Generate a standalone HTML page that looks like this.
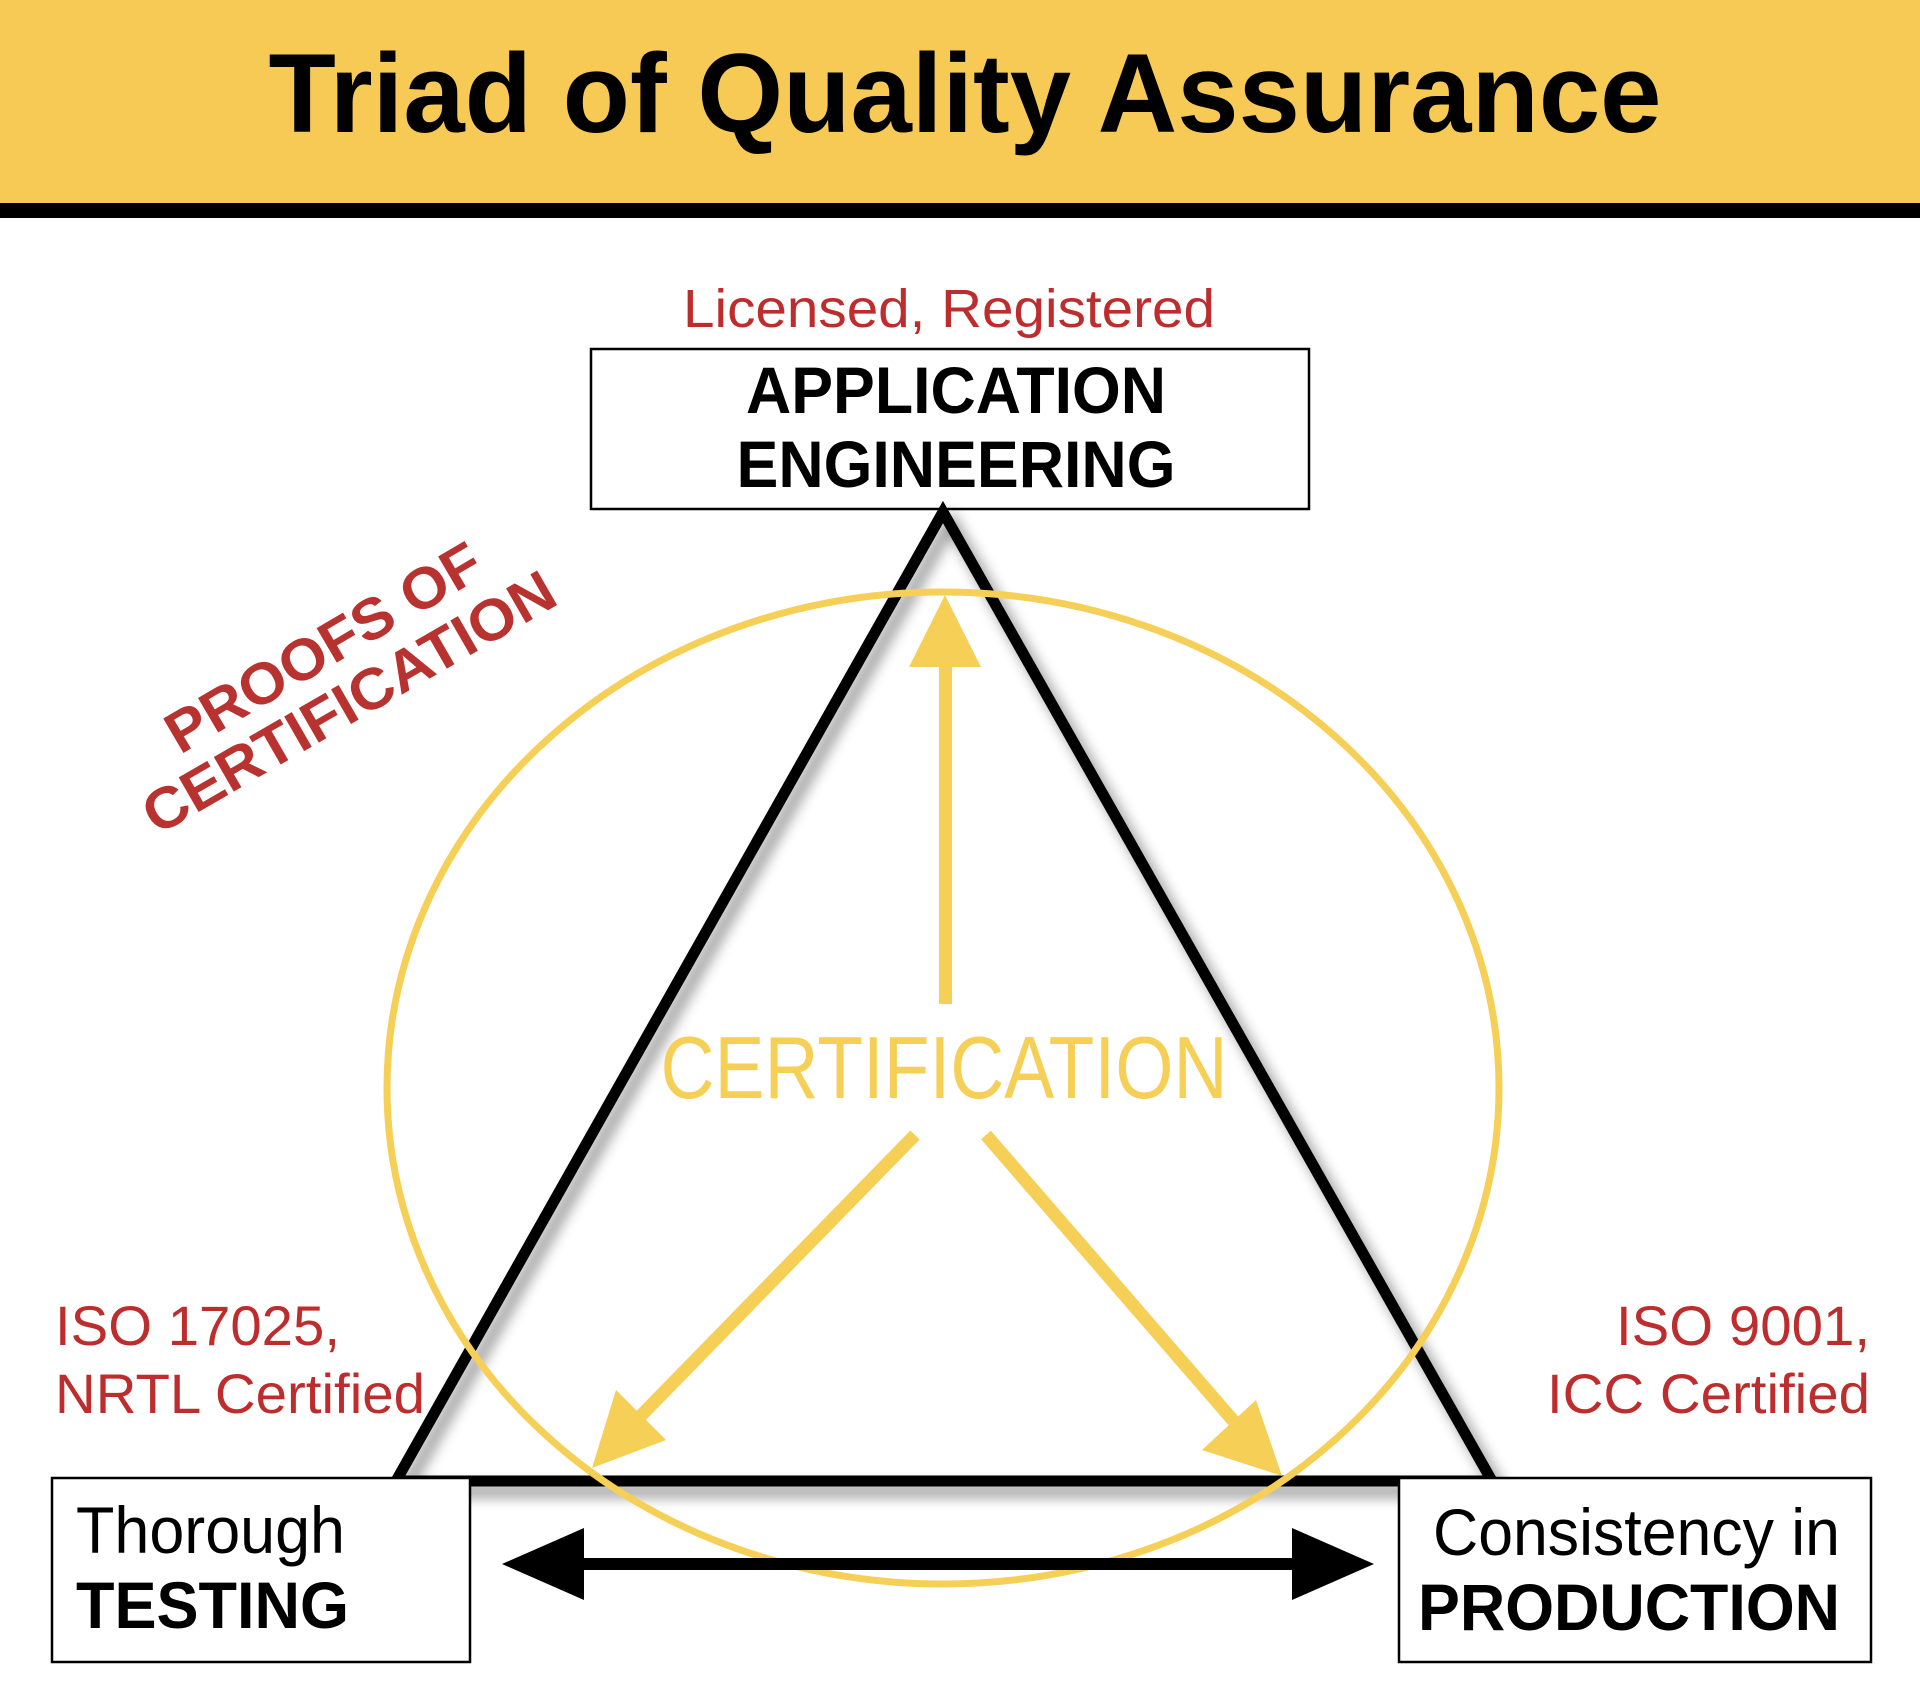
<!DOCTYPE html>
<html><head><meta charset="utf-8"><style>
html,body{margin:0;padding:0;background:#fff;}
svg{display:block;}
</style></head><body>
<svg width="1920" height="1684" viewBox="0 0 1920 1684" xmlns="http://www.w3.org/2000/svg" font-family="Liberation Sans, Arial, sans-serif">
<defs>
<filter id="sh" x="-20%" y="-20%" width="140%" height="140%">
<feGaussianBlur in="SourceAlpha" stdDeviation="7"/>
<feOffset dx="8" dy="10" result="b"/>
<feComponentTransfer><feFuncA type="linear" slope="0.45"/></feComponentTransfer>
<feMerge><feMergeNode/><feMergeNode in="SourceGraphic"/></feMerge>
</filter>
</defs>
<rect x="0" y="0" width="1920" height="203" fill="#f6ca55"/>
<rect x="0" y="203" width="1920" height="15" fill="#000"/>
<text x="965" y="132" font-size="112" font-weight="bold" text-anchor="middle" textLength="1393" lengthAdjust="spacingAndGlyphs">Triad of Quality Assurance</text>

<text x="949" y="327" font-size="54" fill="#be2d2d" text-anchor="middle" textLength="532" lengthAdjust="spacingAndGlyphs">Licensed, Registered</text>
<rect x="591" y="349" width="718" height="160" fill="#fff" stroke="#000" stroke-width="2.5"/>
<text x="956" y="413" font-size="66" font-weight="bold" text-anchor="middle" textLength="420" lengthAdjust="spacingAndGlyphs">APPLICATION</text>
<text x="956" y="487" font-size="66" font-weight="bold" text-anchor="middle" textLength="439" lengthAdjust="spacingAndGlyphs">ENGINEERING</text>

<g transform="translate(180,755) rotate(-30.5)">
<text x="0" y="0" font-size="58" font-weight="bold" fill="#b83230" textLength="356" lengthAdjust="spacingAndGlyphs">PROOFS OF</text>
</g>
<g transform="translate(157,836) rotate(-30)">
<text x="0" y="0" font-size="58" font-weight="bold" fill="#b83230" textLength="466" lengthAdjust="spacingAndGlyphs">CERTIFICATION</text>
</g>

<polygon points="943,512 396,1481 1492,1481" fill="none" stroke="#000" stroke-width="11" stroke-linejoin="miter" filter="url(#sh)"/>

<ellipse cx="943" cy="1088" rx="556" ry="496" fill="none" stroke="#f6cf57" stroke-width="7"/>

<rect x="939" y="665" width="13" height="339" fill="#f6cf57"/>
<polygon points="945,595 909,667 981,667" fill="#f6cf57"/>
<line x1="915" y1="1135" x2="625" y2="1432" stroke="#f6cf57" stroke-width="13"/>
<polygon points="592,1468 616,1390 666,1440" fill="#f6cf57"/>
<line x1="986" y1="1135" x2="1250" y2="1440" stroke="#f6cf57" stroke-width="13"/>
<polygon points="1282,1476 1202,1450 1256,1400" fill="#f6cf57"/>

<text x="944" y="1098" font-size="88" fill="#f6cf57" text-anchor="middle" textLength="567" lengthAdjust="spacingAndGlyphs">CERTIFICATION</text>

<text x="55" y="1345" font-size="56" fill="#be2d2d" textLength="285" lengthAdjust="spacingAndGlyphs">ISO 17025,</text>
<text x="55" y="1413" font-size="56" fill="#be2d2d" textLength="370" lengthAdjust="spacingAndGlyphs">NRTL Certified</text>
<text x="1870" y="1345" font-size="56" fill="#be2d2d" text-anchor="end" textLength="254" lengthAdjust="spacingAndGlyphs">ISO 9001,</text>
<text x="1870" y="1413" font-size="56" fill="#be2d2d" text-anchor="end" textLength="323" lengthAdjust="spacingAndGlyphs">ICC Certified</text>

<rect x="52" y="1478" width="418" height="184" fill="#fff" stroke="#000" stroke-width="2.5"/>
<text x="76" y="1553" font-size="66" textLength="269" lengthAdjust="spacingAndGlyphs">Thorough</text>
<text x="76" y="1628" font-size="66" font-weight="bold" textLength="273" lengthAdjust="spacingAndGlyphs">TESTING</text>
<rect x="1399" y="1478" width="472" height="184" fill="#fff" stroke="#000" stroke-width="2.5"/>
<text x="1433" y="1555" font-size="66" textLength="407" lengthAdjust="spacingAndGlyphs">Consistency in</text>
<text x="1418" y="1630" font-size="66" font-weight="bold" textLength="422" lengthAdjust="spacingAndGlyphs">PRODUCTION</text>

<rect x="580" y="1558" width="716" height="12" fill="#000"/>
<polygon points="502,1564 584,1528 584,1600" fill="#000"/>
<polygon points="1374,1564 1292,1528 1292,1600" fill="#000"/>
</svg>
</body></html>
